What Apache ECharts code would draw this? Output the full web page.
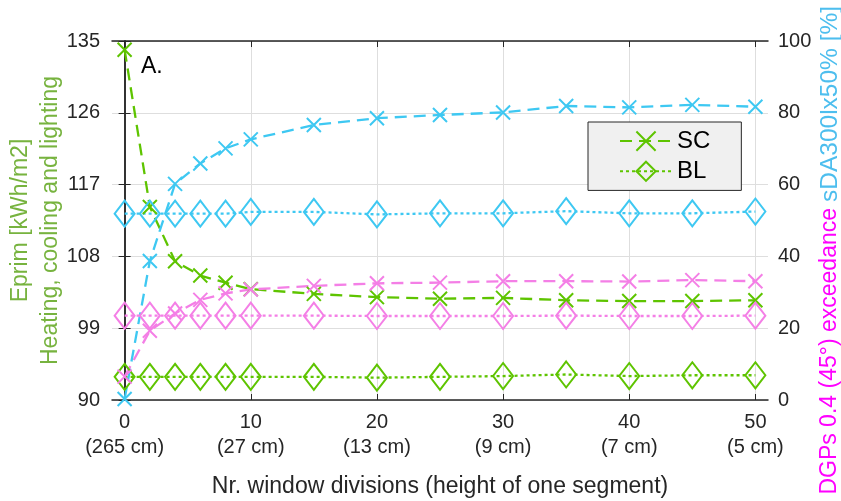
<!DOCTYPE html>
<html>
<head>
<meta charset="utf-8">
<script src="https://cdn.jsdelivr.net/npm/echarts@6/dist/echarts.min.js"></script>
<style>
  html, body { margin: 0; padding: 0; background: #fff; }
  #chart { width: 841px; height: 501px; }
</style>
</head>
<body>
<div id="chart"></div>
<script>
// number of window divisions (x)
const divisions = [0, 2, 4, 6, 8, 10, 15, 20, 25, 30, 35, 40, 45, 50];
const xTicks = [0, 10, 20, 30, 40, 50];
const segmentHeights = ['265 cm', '27 cm', '13 cm', '9 cm', '7 cm', '5 cm'];

// Eprim [kWh/m2] (left axis)
const eprimSC = [133.9, 114.2, 107.4, 105.6, 104.7, 103.9, 103.3, 102.9, 102.7, 102.8, 102.5, 102.4, 102.4, 102.5];
const eprimBL = [92.9, 92.9, 92.9, 92.9, 92.9, 92.9, 92.9, 92.8, 92.9, 93.0, 93.2, 93.0, 93.1, 93.1];
// sDA300lx50% [%] (right axis)
const sdaSC = [0.3, 38.7, 60.2, 65.9, 70.1, 72.6, 76.6, 78.5, 79.4, 80.1, 81.9, 81.5, 82.2, 81.7];
const sdaBL = [51.9, 51.9, 51.9, 51.9, 51.9, 52.4, 52.4, 51.7, 52.0, 52.0, 52.6, 52.0, 52.0, 52.5];
// DGPs 0.4 (45°) exceedance [%] (right axis)
const dgpSC = [6.5, 19.3, 24.1, 27.9, 29.7, 30.8, 31.8, 32.5, 32.7, 33.1, 33.1, 33.0, 33.4, 33.1];
const dgpBL = [23.5, 23.5, 23.5, 23.5, 23.5, 23.5, 23.5, 23.4, 23.4, 23.4, 23.5, 23.4, 23.4, 23.5];

const GREEN = '#5ec400';
const CYAN = '#3ec8f2';
const PINK = '#f47fe6';
const FONT = "'Liberation Sans', Arial, sans-serif";
const CROSS = 'path://M0,0L10,10M10,0L0,10';

const pairs = ys => divisions.map((x, i) => [x, ys[i]]);

function makeSeries(name, ys, color, kind, yIndex) {
  const sc = kind === 'sc';
  return {
    name: name,
    type: 'line',
    yAxisIndex: yIndex,
    data: pairs(ys),
    symbol: sc ? CROSS : 'diamond',
    symbolSize: sc ? 14 : [20, 26],
    showAllSymbol: true,
    clip: false,
    lineStyle: { color: color, width: 2.3, type: sc ? [12, 7] : [3, 3] },
    itemStyle: { color: 'none', borderColor: color, borderWidth: 2 },
    emphasis: { disabled: true }
  };
}

const chart = echarts.init(document.getElementById('chart'));

const option = {
  animation: false,
  backgroundColor: '#fff',
  textStyle: { fontFamily: FONT },
  title: {
    text: 'A.',
    left: 136,
    top: 50,
    textStyle: { fontFamily: FONT, fontSize: 23, fontWeight: 'normal', color: '#000' }
  },
  grid: { left: 112, right: 73, top: 41, bottom: 101, outerBoundsMode: 'none' },
  legend: {
    data: ['SC', 'BL'],
    orient: 'vertical',
    left: 588,
    top: 122,
    padding: [7, 31, 7, 31],
    itemWidth: 52,
    itemHeight: 24,
    itemGap: 6,
    backgroundColor: '#f0f0f0',
    borderColor: '#262626',
    borderWidth: 1,
    borderRadius: 0,
    textStyle: { fontFamily: FONT, fontSize: 24, color: '#000' }
  },
  xAxis: [{
    type: 'value',
    min: -1,
    max: 51,
    name: 'Nr. window divisions (height of one segment)',
    nameLocation: 'middle',
    nameGap: 75,
    nameTextStyle: { fontFamily: FONT, fontSize: 23, color: '#262626' },
    axisLine: { lineStyle: { color: '#262626', width: 1.5 } },
    axisTick: { inside: true, length: 6, customValues: xTicks, lineStyle: { color: '#262626' } },
    axisLabel: {
      customValues: xTicks,
      margin: 10,
      fontFamily: FONT,
      fontSize: 20,
      lineHeight: 25,
      color: '#262626',
      formatter: v => v + '\n(' + segmentHeights[xTicks.indexOf(v)] + ')'
    },
    splitLine: { show: true, lineStyle: { color: '#dedede', width: 1 } }
  }, {
    type: 'value',
    position: 'top',
    min: -1,
    max: 51,
    axisLine: { lineStyle: { color: '#262626', width: 1.5 } },
    axisTick: { inside: true, length: 6, customValues: xTicks, lineStyle: { color: '#262626' } },
    axisLabel: { show: false },
    splitLine: { show: false }
  }],
  yAxis: [{
    type: 'value',
    min: 90,
    max: 135,
    interval: 9,
    name: 'Eprim [kWh/m2]\nHeating, cooling and lighting',
    nameLocation: 'middle',
    nameRotate: 90,
    nameGap: 46,
    nameMoveOverlap: false,
    nameTextStyle: { fontFamily: FONT, fontSize: 23, lineHeight: 30, color: '#77b33f' },
    axisLine: { show: true, lineStyle: { color: '#262626', width: 1.5 } },
    axisTick: { show: true, inside: true, length: 6, lineStyle: { color: '#262626' } },
    axisLabel: { margin: 12, fontFamily: FONT, fontSize: 20, color: '#262626' },
    splitLine: { show: true, lineStyle: { color: '#dedede', width: 1 } }
  }, {
    type: 'value',
    position: 'right',
    min: 0,
    max: 100,
    interval: 20,
    axisLine: { show: true, lineStyle: { color: '#262626', width: 1.5 } },
    axisTick: { show: true, inside: true, length: 6, lineStyle: { color: '#262626' } },
    axisLabel: { margin: 10, fontFamily: FONT, fontSize: 20, color: '#262626' },
    splitLine: { show: false }
  }],
  graphic: [{
    type: 'text',
    x: 830,
    y: 208,
    rotation: Math.PI / 2,
    style: {
      text: 'DGPs 0.4 (45°) exceedance',
      fill: '#ff00ff',
      font: '23px ' + FONT,
      align: 'right',
      verticalAlign: 'middle'
    }
  }, {
    type: 'text',
    x: 830,
    y: 202,
    rotation: Math.PI / 2,
    style: {
      text: 'sDA300lx50% [%]',
      fill: '#4dbeee',
      font: '24.5px ' + FONT,
      align: 'left',
      verticalAlign: 'middle'
    }
  }],
  series: [
    makeSeries('SC', eprimSC, GREEN, 'sc', 0),
    makeSeries('BL', eprimBL, GREEN, 'bl', 0),
    makeSeries('sDA SC', sdaSC, CYAN, 'sc', 1),
    makeSeries('sDA BL', sdaBL, CYAN, 'bl', 1),
    makeSeries('DGP SC', dgpSC, PINK, 'sc', 1),
    makeSeries('DGP BL', dgpBL, PINK, 'bl', 1)
  ]
};

chart.setOption(option);
</script>
</body>
</html>
